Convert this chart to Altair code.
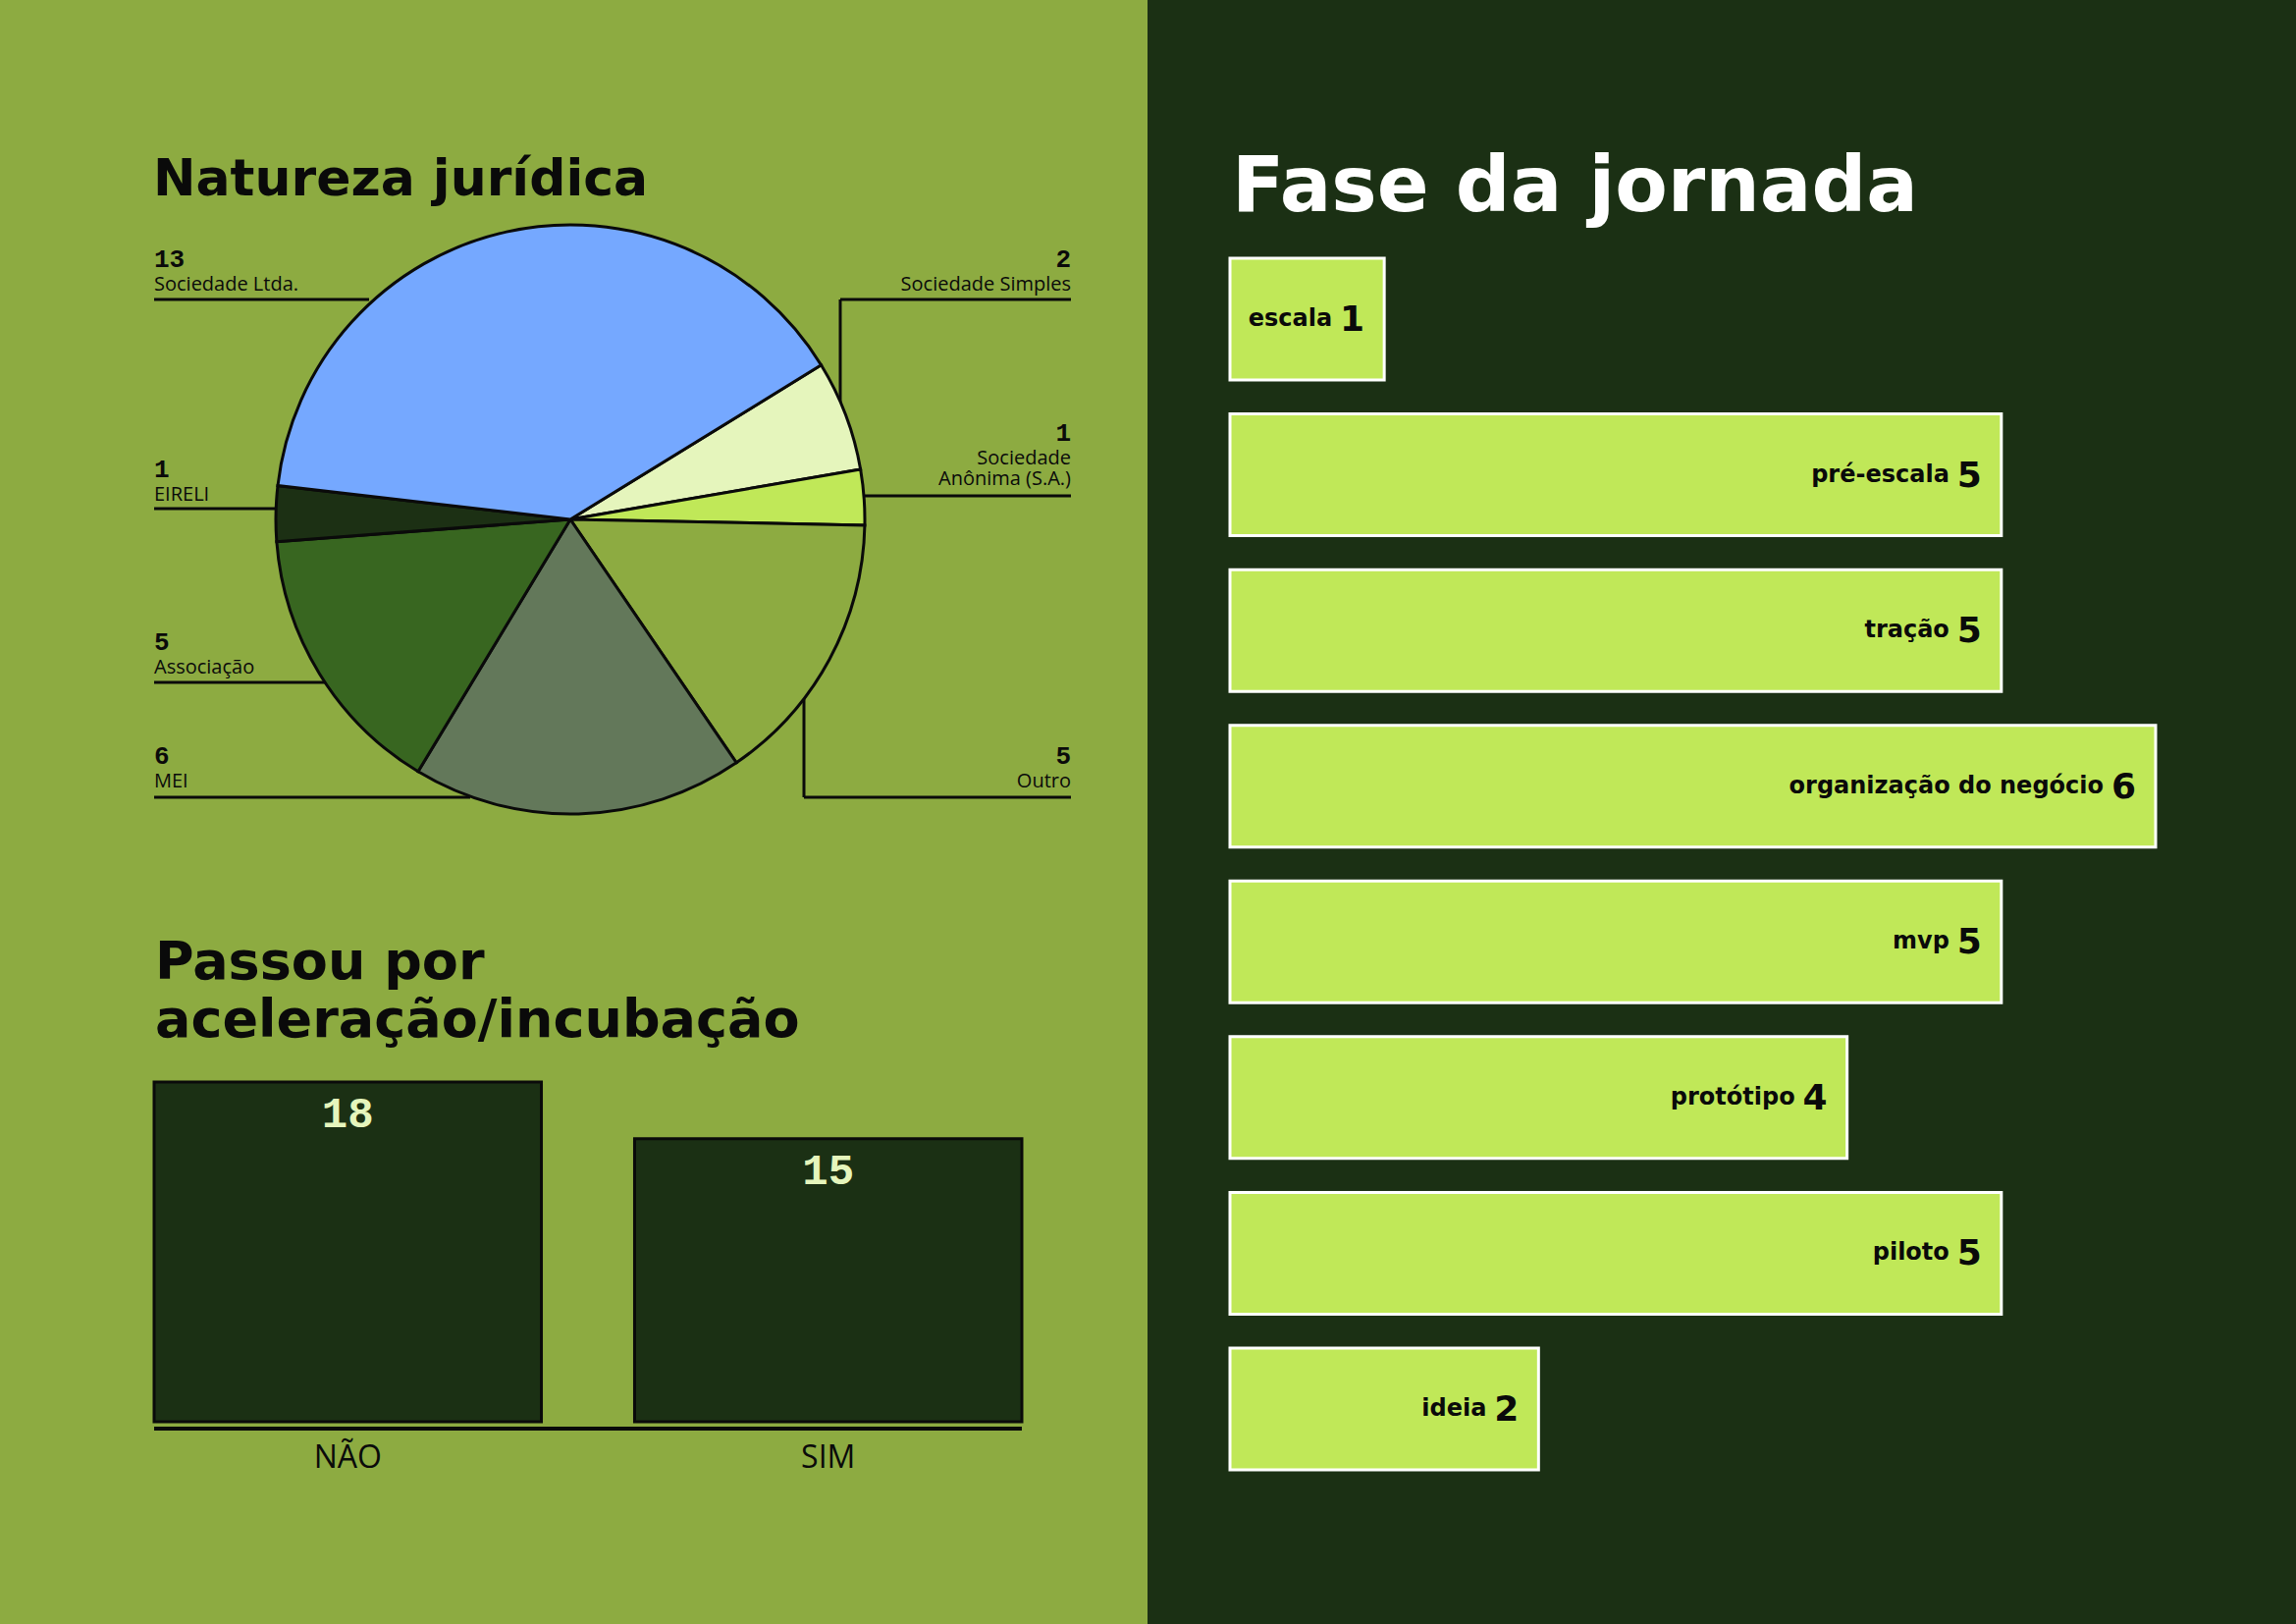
import math
import altair as alt
import pandas as pd

W, H = 2339, 1654

# ---------------- data ----------------
nat_categorias = ["Sociedade Simples", "Sociedade Anônima (S.A.)", "Outro", "MEI",
                  "Associação", "EIRELI", "Sociedade Ltda."]
nat_valores = [2, 1, 5, 6, 5, 1, 13]

acel_categorias = ["NÃO", "SIM"]
acel_valores = [18, 15]

fase_categorias = ["escala", "pré-escala", "tração", "organização do negócio",
                   "mvp", "protótipo", "piloto", "ideia"]
fase_valores = [1, 5, 5, 6, 5, 4, 5, 2]

titulos = {"nat": "Natureza jurídica",
           "acel": ["Passou por", "aceleração/incubação"],
           "fase": "Fase da jornada"}

# ---------------- styles ----------------
OLIVE = "#8DAB41"
DARK = "#1B3014"
LIME = "#C0E858"
PALE = "#E5F5BC"
INK = "#0A0A0A"
nat_cores = ["#E5F5BC", "#C0E858", "#8DAB41", "#63785A", "#386620", "#1C3014", "#75A8FF"]
TITLE_FONT = "DejaVu Sans"
NUM_FONT = "Liberation Mono"
TXT_FONT = "Open Sans"

# pie geometry / annotation layout (pixels)
CX, CY, R = 581, 529, 300
OFFSET = math.radians(58.4)
LEFT_X, RIGHT_X = 157, 1091
nat_layout = {
    "Sociedade Ltda.": ("esq", 272, ["Sociedade Ltda."], [(157, 305, 376, 305)]),
    "Sociedade Simples": ("dir", 272, ["Sociedade Simples"], [(856, 305, 1091, 305), (856, 305, 856, 410)]),
    "Sociedade Anônima (S.A.)": ("dir", 449, ["Sociedade", "Anônima (S.A.)"], [(880, 505, 1091, 505)]),
    "EIRELI": ("esq", 486, ["EIRELI"], [(157, 518, 282, 518)]),
    "Associação": ("esq", 662, ["Associação"], [(157, 695, 331, 695)]),
    "MEI": ("esq", 778, ["MEI"], [(157, 812, 479, 812)]),
    "Outro": ("dir", 778, ["Outro"], [(819, 812, 1091, 812), (819, 711, 819, 812)]),
}

# ---------------- tables ----------------
df_nat = pd.DataFrame({"categoria": nat_categorias, "valor": nat_valores,
                       "ordem": list(range(len(nat_categorias)))})

num_rows, nome_rows, guia_rows = [], [], []
for cat, val in zip(nat_categorias, nat_valores):
    lado, y_num, linhas, guias = nat_layout[cat]
    x = LEFT_X if lado == "esq" else RIGHT_X
    num_rows.append({"x": x, "y": y_num, "texto": str(val), "lado": lado})
    for i, ln in enumerate(linhas):
        nome_rows.append({"x": x, "y": y_num + 24 + 21 * i, "texto": ln, "lado": lado})
    for (x1, y1, x2, y2) in guias:
        guia_rows.append({"x1": x1, "y1": y1, "x2": x2, "y2": y2})
df_num = pd.DataFrame(num_rows)
df_nome = pd.DataFrame(nome_rows)
df_guia = pd.DataFrame(guia_rows)

df_acel = pd.DataFrame({"resp": acel_categorias, "qtd": acel_valores})
df_fase = pd.DataFrame({"fase": fase_categorias, "valor_fase": fase_valores})
one = pd.DataFrame({"k": [0]})

def px(field):
    return alt.X(field, scale=None, axis=None)

def py(field):
    return alt.Y(field, scale=None, axis=None)

# ---------------- layers ----------------
bg_left = alt.Chart(one).mark_rect(color=OLIVE).encode(
    x=alt.value(0), x2=alt.value(1169), y=alt.value(0), y2=alt.value(H))

guias = alt.Chart(df_guia).mark_rule(color=INK, strokeWidth=3).encode(
    x=px("x1:Q"), x2="x2:Q", y=py("y1:Q"), y2="y2:Q")

pie = alt.Chart(df_nat).mark_arc(radius=R, stroke=INK, strokeWidth=3).encode(
    theta=alt.Theta("valor:Q", stack=True,
                    scale=alt.Scale(range=[OFFSET, OFFSET + 2 * math.pi])),
    order=alt.Order("ordem:Q"),
    color=alt.Color("categoria:N", scale=alt.Scale(domain=nat_categorias, range=nat_cores),
                    legend=None),
    x=alt.value(CX), y=alt.value(CY))

def text_layer(df, lado, **kw):
    return alt.Chart(df[df["lado"] == lado]).mark_text(
        align="left" if lado == "esq" else "right", baseline="alphabetic", color=INK, **kw
    ).encode(x=px("x:Q"), y=py("y:Q"), text="texto:N")

num_esq = text_layer(df_num, "esq", font=NUM_FONT, fontSize=26, fontWeight="bold")
num_dir = text_layer(df_num, "dir", font=NUM_FONT, fontSize=26, fontWeight="bold")
nome_esq = text_layer(df_nome, "esq", font=TXT_FONT, fontSize=20, fontWeight=500)
nome_dir = text_layer(df_nome, "dir", font=TXT_FONT, fontSize=20, fontWeight=500)

def title(txt, x, y, size, color):
    return alt.Chart(one).mark_text(align="left", baseline="alphabetic", font=TITLE_FONT,
                                    fontSize=size, fontWeight="bold", color=color,
                                    text=txt).encode(x=alt.value(x), y=alt.value(y))

t_nat = title(titulos["nat"], 156, 199, 52, INK)
t_acel1 = title(titulos["acel"][0], 158, 997, 54, INK)
t_acel2 = title(titulos["acel"][1], 158, 1056, 54, INK)
t_fase = title(titulos["fase"], 1255, 215, 78, "white")

# accel bar chart
acel_x = alt.Scale(domain=acel_categorias, range=[157, 1041], paddingInner=0.194, paddingOuter=0)
acel_y = alt.Scale(domain=[0, 18], range=[1448, 1102])
acel_base = alt.Chart(df_acel).encode(
    x=alt.X("resp:N", scale=acel_x, sort=None, axis=None),
    y=alt.Y("qtd:Q", scale=acel_y, axis=None))
acel_bars = acel_base.mark_bar(color=DARK, stroke=INK, strokeWidth=3)
acel_txt = acel_base.mark_text(baseline="top", dy=11, font=NUM_FONT, fontWeight="bold",
                               fontSize=44, color=PALE).encode(text="qtd:Q")
acel_lbl = alt.Chart(df_acel).mark_text(baseline="alphabetic", font=TXT_FONT, fontSize=32,
                                        color=INK).encode(
    x=alt.X("resp:N", scale=acel_x, sort=None, axis=None),
    y=alt.value(1495), text="resp:N")
acel_base_line = alt.Chart(one).mark_rule(color=INK, strokeWidth=4).encode(
    x=alt.value(157), x2=alt.value(1041), y=alt.value(1455))
acel = alt.layer(acel_bars, acel_txt, acel_lbl)

# fase bar chart
fase_x = alt.Scale(domain=[0, 6], range=[1253, 2196])
fase_y = alt.Scale(domain=fase_categorias, range=[263, 1497], paddingInner=0.218, paddingOuter=0)
fase_base = alt.Chart(df_fase).encode(
    x=alt.X("valor_fase:Q", scale=fase_x, axis=None),
    y=alt.Y("fase:N", scale=fase_y, axis=None, sort=None))
fase_bars = fase_base.mark_bar(color=LIME, stroke="white", strokeWidth=3)
fase_num = fase_base.mark_text(align="right", baseline="middle", dx=-20, dy=1, font=TITLE_FONT,
                               fontWeight="bold", fontSize=36, color=INK).encode(text="valor_fase:Q")
fase_lbl = fase_base.mark_text(align="right", baseline="middle", dx=-53, font=TITLE_FONT,
                               fontWeight="bold", fontSize=24, color=INK).encode(text="fase:N")
fase = alt.layer(fase_bars, fase_num, fase_lbl)

chart = alt.layer(
    bg_left, guias, pie, num_esq, num_dir, nome_esq, nome_dir,
    t_nat, t_acel1, t_acel2, t_fase, acel_base_line, acel, fase
).resolve_scale(x="independent", y="independent").properties(
    width=W, height=H, padding=0,
    autosize=alt.AutoSizeParams(type="none"),
    background=DARK
).configure_view(strokeWidth=0)

chart.save("out.html", embed_options={"renderer": "svg", "actions": False})
